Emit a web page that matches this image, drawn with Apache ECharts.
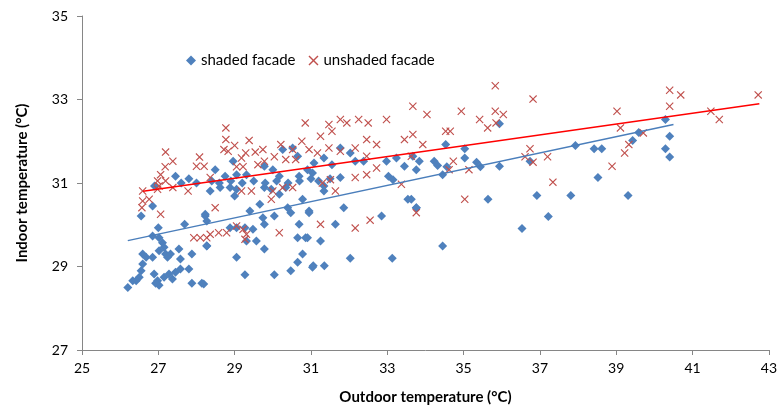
<!DOCTYPE html>
<html><head><meta charset="utf-8">
<script src="https://cdn.jsdelivr.net/npm/echarts@6/dist/echarts.min.js"></script>
<style>html,body{margin:0;padding:0;background:#fff}#c{width:780px;height:410px}</style>
</head><body><div id="c"></div>
<script>
var xTicks = [25,27,29,31,33,35,37,39,41,43];
var yTicks = [27,29,31,33,35];
var seriesNames = ['shaded facade','unshaded facade'];
var shaded = [
[27.45,31.16],[26.9,30.93],
[26.85,30.45],[26.55,30.21],[28.23,30.21],[27.69,30.01],[27.0,29.93],[26.85,29.73],[27.02,29.69],[27.11,29.57],[27.15,29.46],[27.19,29.30],[27.02,29.38],[27.54,29.42],[27.32,29.30],[27.24,29.22],[27.88,29.30],[28.27,29.50],[26.59,29.30],[26.68,29.22],[26.85,29.22],[26.59,29.06],[26.55,28.9],[26.5,28.74],[26.42,28.66],[26.33,28.66],[26.2,28.5],[26.89,28.82],[26.98,28.66],[27.15,28.74],[27.28,28.82],[27.37,28.70],[27.45,28.86],[27.58,28.94],[27.58,29.18],[27.8,28.94],[27.88,28.60],[28.14,28.60],[27.02,28.55],[26.93,28.6],
[28.96,31.52],[28.49,31.32],[28.75,31.16],[29.05,31.2],[29.31,31.2],[29.78,31.40],[30.0,31.32],[30.26,31.80],[30.52,31.84],[30.65,31.64],[30.69,31.16],[30.17,31.16],
[28.36,30.81],[28.62,30.89],[28.88,30.89],[29.0,30.69],[29.05,30.85],[29.78,30.89],[29.96,30.85],[30.17,30.73],[30.34,30.89],[30.78,30.61],[30.95,30.33],[28.23,30.25],[28.27,30.09],[29.40,30.33],[29.66,30.49],[30.04,30.21],[30.39,30.41],[30.47,30.29],[29.74,30.17],[29.78,30.01],[30.69,30.01],[30.65,29.69],[30.86,29.69],[28.88,29.93],[29.05,29.93],[29.27,29.93],[29.48,29.89],[29.31,29.61],[29.57,29.61],[29.78,29.42],[28.27,29.49],[29.05,29.22],[30.78,29.30],[30.65,29.10],[30.47,28.90],[30.04,28.80],[29.27,28.80],[31.04,28.98],[28.19,28.58],
[31.77,31.84],[32.03,31.72],[31.34,31.60],[31.08,31.48],[30.91,31.32],[31.55,31.44],[32.16,31.52],[32.38,31.52],[32.98,31.52],[33.24,31.60],[33.45,31.40],[33.67,31.64],[33.03,31.16],[33.15,31.08],[31.77,31.13],[31.34,30.93],[31.04,31.24],
[31.34,30.81],[30.95,30.29],[31.86,30.41],[31.64,30.01],[32.85,30.21],[33.54,30.61],[33.76,30.41],[31.25,29.61],[30.91,29.69],[32.03,29.2],[33.13,29.2],[31.06,29.02],[31.35,29.02],
[35.94,32.42],[34.53,31.92],[35.03,31.82],[35.03,31.60],[33.84,31.52],[34.23,31.52],[34.32,31.42],[34.56,31.39],[35.34,31.50],[35.44,31.39],[35.94,31.40],[33.76,31.32],[34.45,31.2],[36.74,31.52],
[33.63,30.61],[33.76,30.41],[35.64,30.61],[36.92,30.70],[37.22,30.20],[36.53,29.91],[34.45,29.49],
[40.29,32.52],[40.4,32.12],[40.29,31.82],[40.4,31.62],[39.59,32.21],[39.43,32.02],[37.93,31.90],[38.42,31.82],[38.62,31.82],[38.52,31.13],[37.81,30.70],[39.31,30.70],
[27.6,31.0],[27.8,31.1],[28.0,31.0],[28.4,31.05],[28.6,31.0],[28.9,31.05],[29.2,31.0],[29.5,31.05],[29.8,31.0],[30.1,31.05],[30.4,31.0],[30.7,31.05],[31.0,31.1],[31.2,31.05],[31.5,31.1]
];
var unshaded = [
[27.19,31.74],[27.38,31.52],[27.18,31.39],[28.08,31.62],[28.0,31.40],[28.2,31.40],[27.06,31.2],[26.98,31.05],[27.19,31.05],
[26.59,30.81],[26.98,30.85],[27.02,30.93],[27.38,30.89],[27.78,30.81],[26.59,30.57],[26.76,30.61],[26.57,30.41],[27.06,30.25],[27.93,29.69],[28.1,29.69],[28.27,29.69],
[28.77,32.32],[28.77,32.04],[28.72,31.80],[28.83,31.76],[29.0,31.90],[29.38,32.02],[29.29,31.72],[29.18,31.60],[29.54,31.74],[29.74,31.80],[29.78,31.52],[30.04,31.63],[30.21,31.92],[30.52,31.80],[30.6,31.56],[30.76,32.0],[30.85,32.44],[30.95,31.80],[28.36,31.13],[29.05,31.39],[29.22,31.39],[29.61,31.44],[30.34,31.56],
[29.18,30.81],[29.44,30.81],[30.0,30.81],[30.26,30.89],[30.52,30.89],[29.96,30.61],[28.49,30.41],[28.36,29.77],[28.58,29.81],[28.79,29.81],[29.05,29.97],[29.22,29.89],[29.31,29.77],[29.27,29.65],[30.17,29.81],
[33.67,32.84],[31.25,32.12],[31.47,32.40],[31.55,32.24],[31.77,32.52],[31.94,32.44],[32.25,32.52],[32.50,32.44],[32.98,32.52],[32.72,31.92],[32.46,32.04],[33.45,32.04],[33.67,32.16],[31.47,31.84],[31.17,31.72],[31.77,31.76],[32.16,31.84],[32.46,31.64],[33.63,31.64],[32.72,31.36],[32.16,31.13],[32.46,31.2],[31.30,31.0],[31.51,31.08],
[31.25,30.01],[32.16,29.92],[32.55,30.11],[31.64,30.81],[33.37,30.97],
[35.83,33.33],[36.82,33.01],[34.04,32.64],[34.94,32.72],[35.83,32.72],[36.04,32.64],[35.42,32.52],[35.63,32.32],[35.85,32.44],[34.53,32.24],[34.65,32.24],[33.93,31.92],[36.74,31.82],[36.61,31.63],[36.82,31.50],[37.2,31.63],[34.73,31.52],[34.62,31.32],[35.14,31.32],[37.34,31.02],
[35.03,30.61],[33.76,30.29],
[40.4,33.22],[40.69,33.11],[40.4,32.84],[39.02,32.72],[41.48,32.72],[41.70,32.52],[39.11,32.32],[39.71,32.20],[39.33,31.92],[39.22,31.72],[38.89,31.40],[42.72,33.11]
];
var shadedTrend = [[26.2,29.62],[40.5,32.4]];
var unshadedTrend = [[26.6,30.8],[42.75,32.9]];

var xPath = 'path://M0,1 L1,0 L5,4 L9,0 L10,1 L6,5 L10,9 L9,10 L5,6 L1,10 L0,9 L4,5 Z';
var blue = '#4F81BD', red = '#C0504D';
var font = 'Lato, "Open Sans", sans-serif';
var chart = echarts.init(document.getElementById('c'), null, {renderer:'canvas'});
chart.setOption({
  animation:false,
  textStyle:{fontFamily:font},
  grid:{left:82,right:4,top:16,bottom:59,containLabel:false},
  legend:{
    top:48,left:181,itemGap:13,itemWidth:10,itemHeight:10,
    textStyle:{fontFamily:font,fontSize:15,color:'#000'},
    data:[{name:seriesNames[0],icon:'diamond'},{name:seriesNames[1],icon:xPath}]
  },
  xAxis:{
    type:'value',min:xTicks[0],max:xTicks[xTicks.length-1],interval:2,
    name:'Outdoor temperature (°C)',nameLocation:'middle',nameGap:40,
    nameTextStyle:{fontFamily:font,fontSize:15,fontWeight:'bold',color:'#000'},
    axisLine:{show:true,lineStyle:{color:'#868686'}},
    axisTick:{show:true,length:5,lineStyle:{color:'#868686'}},
    axisLabel:{fontFamily:font,fontSize:14,color:'#000',margin:11},
    splitLine:{show:false}
  },
  yAxis:{
    type:'value',min:yTicks[0],max:yTicks[yTicks.length-1],interval:2,
    name:'Indoor temperature (°C)',nameLocation:'middle',nameGap:52,nameRotate:90,
    nameTextStyle:{fontFamily:font,fontSize:15,fontWeight:'bold',color:'#000'},
    axisLine:{show:true,lineStyle:{color:'#868686'}},
    axisTick:{show:true,length:5,lineStyle:{color:'#868686'}},
    axisLabel:{fontFamily:font,fontSize:14,color:'#000',margin:14},
    splitLine:{show:false}
  },
  series:[
    {name:seriesNames[0],type:'scatter',data:shaded,symbol:'diamond',symbolSize:9,itemStyle:{color:blue,opacity:1},z:3},
    {name:seriesNames[1],type:'scatter',data:unshaded,symbol:xPath,symbolSize:8,itemStyle:{color:red,opacity:1},z:4},
    {name:'shadedTrend',type:'line',data:shadedTrend,symbol:'none',lineStyle:{color:'#4A7EBB',width:1.5},z:5,silent:true},
    {name:'unshadedTrend',type:'line',data:unshadedTrend,symbol:'none',lineStyle:{color:'#FF0000',width:1.5},z:5,silent:true}
  ]
});
</script></body></html>
